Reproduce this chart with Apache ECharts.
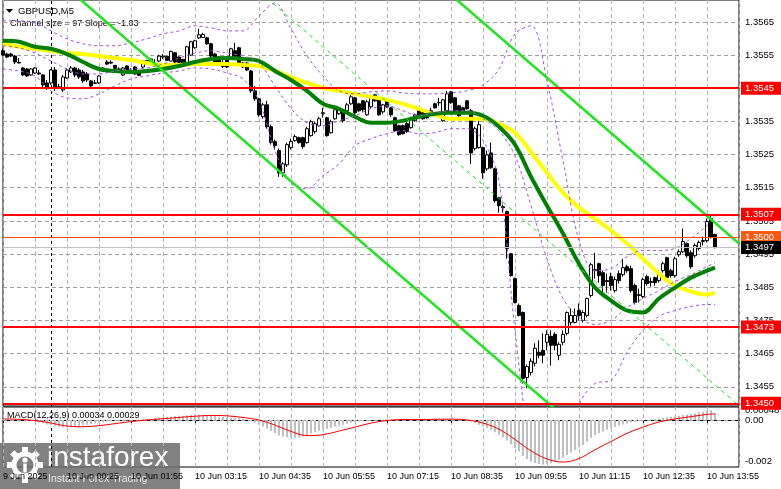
<!DOCTYPE html>
<html><head><meta charset="utf-8">
<script src="https://cdn.jsdelivr.net/npm/echarts@6/dist/echarts.min.js"></script>
<style>html,body{margin:0;padding:0;background:#fff}#c{width:781px;height:489px}</style>
</head><body><div id="c"></div>
<script>
// ---------- DATA ----------
const timeLabels = ['9 Jun 2025','10 Jun 00:25','10 Jun 01:55','10 Jun 03:15','10 Jun 04:35','10 Jun 05:55','10 Jun 07:15','10 Jun 08:35','10 Jun 09:55','10 Jun 11:15','10 Jun 12:35','10 Jun 13:55'];
const priceTicks = [1.3455,1.3465,1.3475,1.3485,1.3495,1.3505,1.3515,1.3525,1.3535,1.3545,1.3555,1.3565];
const redLevels = [1.3545,1.3507,1.3473,1.3450];
const pivotLevel = 1.3500;
const bidLevel = 1.3497;
// [open, close, low, high]
const ohlc = [
[1.35563,1.35550,1.35547,1.35569],[1.35553,1.35544,1.35541,1.35557],[1.35553,1.35547,1.35544,1.35557],[1.35547,1.35529,1.35523,1.35550],
[1.35528,1.35526,1.35525,1.35541],[1.35511,1.35490,1.35487,1.35514],[1.35508,1.35487,1.35484,1.35511],[1.35490,1.35508,1.35487,1.35511],
[1.35496,1.35511,1.35493,1.35514],[1.35496,1.35493,1.35491,1.35505],[1.35490,1.35460,1.35451,1.35493],[1.35466,1.35451,1.35445,1.35475],
[1.35466,1.35505,1.35460,1.35508],[1.35505,1.35454,1.35442,1.35514],[1.35454,1.35453,1.35448,1.35463],[1.35445,1.35484,1.35439,1.35490],
[1.35481,1.35505,1.35478,1.35511],[1.35499,1.35511,1.35496,1.35517],[1.35511,1.35490,1.35484,1.35514],[1.35505,1.35484,1.35478,1.35511],
[1.35499,1.35472,1.35466,1.35505],[1.35493,1.35475,1.35469,1.35499],[1.35472,1.35457,1.35454,1.35475],[1.35466,1.35465,1.35463,1.35475],
[1.35466,1.35487,1.35463,1.35490],[1.35502,1.35511,1.35499,1.35514],[1.35529,1.35523,1.35520,1.35535],[1.35528,1.35526,1.35523,1.35534],
[1.35519,1.35510,1.35508,1.35520],[1.35508,1.35507,1.35502,1.35513],[1.35490,1.35511,1.35487,1.35514],[1.35517,1.35499,1.35496,1.35520],
[1.35499,1.35498,1.35493,1.35511],[1.35514,1.35493,1.35490,1.35517],[1.35498,1.35489,1.35487,1.35501],[1.35514,1.35532,1.35511,1.35535],
[1.35523,1.35534,1.35520,1.35535],[1.35528,1.35538,1.35526,1.35541],[1.35520,1.35519,1.35517,1.35538],[1.35532,1.35547,1.35529,1.35550],
[1.35544,1.35547,1.35538,1.35553],[1.35546,1.35534,1.35532,1.35547],[1.35532,1.35561,1.35529,1.35563],[1.35557,1.35529,1.35526,1.35558],
[1.35544,1.35528,1.35526,1.35546],[1.35537,1.35519,1.35517,1.35538],[1.35523,1.35575,1.35520,1.35578],[1.35550,1.35590,1.35547,1.35593],
[1.35572,1.35593,1.35569,1.35596],[1.35602,1.35611,1.35599,1.35629],[1.35603,1.35612,1.35602,1.35617],[1.35602,1.35584,1.35581,1.35605],
[1.35584,1.35547,1.35544,1.35587],[1.35553,1.35523,1.35522,1.35557],[1.35544,1.35520,1.35517,1.35547],[1.35517,1.35516,1.35511,1.35541],
[1.35541,1.35514,1.35511,1.35544],[1.35538,1.35569,1.35535,1.35572],[1.35563,1.35546,1.35544,1.35587],[1.35572,1.35526,1.35523,1.35575],
[1.35526,1.35514,1.35511,1.35529],[1.35526,1.35505,1.35502,1.35529],[1.35502,1.35442,1.35436,1.35505],[1.35442,1.35418,1.35412,1.35457],
[1.35418,1.35370,1.35364,1.35421],[1.35364,1.35400,1.35358,1.35406],[1.35400,1.35334,1.35328,1.35412],[1.35334,1.35286,1.35280,1.35340],
[1.35289,1.35277,1.35265,1.35295],[1.35262,1.35195,1.35183,1.35268],[1.35195,1.35222,1.35183,1.35228],[1.35219,1.35280,1.35213,1.35286],
[1.35271,1.35289,1.35265,1.35298],[1.35292,1.35304,1.35289,1.35310],[1.35301,1.35286,1.35283,1.35304],[1.35301,1.35274,1.35268,1.35304],
[1.35286,1.35328,1.35283,1.35334],[1.35307,1.35349,1.35304,1.35355],[1.35319,1.35343,1.35313,1.35349],[1.35337,1.35358,1.35334,1.35364],
[1.35373,1.35376,1.35361,1.35391],[1.35361,1.35307,1.35304,1.35364],[1.35316,1.35349,1.35313,1.35355],[1.35358,1.35385,1.35355,1.35391],
[1.35373,1.35389,1.35370,1.35394],[1.35382,1.35352,1.35346,1.35385],[1.35382,1.35400,1.35379,1.35406],[1.35403,1.35424,1.35400,1.35430],
[1.35421,1.35376,1.35370,1.35424],[1.35403,1.35382,1.35379,1.35406],[1.35412,1.35385,1.35379,1.35415],[1.35370,1.35409,1.35367,1.35415],
[1.35394,1.35424,1.35388,1.35430],[1.35430,1.35412,1.35409,1.35433],[1.35415,1.35370,1.35367,1.35418],[1.35379,1.35400,1.35373,1.35403],
[1.35412,1.35394,1.35391,1.35415],[1.35391,1.35370,1.35364,1.35394],[1.35361,1.35322,1.35319,1.35364],[1.35337,1.35310,1.35307,1.35340],
[1.35337,1.35313,1.35310,1.35340],[1.35343,1.35319,1.35316,1.35349],[1.35331,1.35358,1.35328,1.35364],[1.35352,1.35370,1.35349,1.35373],
[1.35382,1.35361,1.35358,1.35385],[1.35376,1.35358,1.35355,1.35379],[1.35376,1.35361,1.35358,1.35379],[1.35382,1.35380,1.35373,1.35391],
[1.35403,1.35391,1.35388,1.35406],[1.35406,1.35407,1.35397,1.35421],[1.35352,1.35415,1.35349,1.35418],[1.35382,1.35433,1.35379,1.35442],
[1.35439,1.35406,1.35403,1.35442],[1.35421,1.35382,1.35379,1.35424],[1.35397,1.35367,1.35364,1.35400],[1.35391,1.35376,1.35373,1.35394],
[1.35412,1.35388,1.35385,1.35415],[1.35382,1.35255,1.35222,1.35388],[1.35268,1.35328,1.35262,1.35334],[1.35271,1.35340,1.35268,1.35352],
[1.35271,1.35195,1.35177,1.35274],[1.35207,1.35249,1.35201,1.35262],[1.35255,1.35210,1.35207,1.35286],[1.35207,1.35111,1.35105,1.35210],
[1.35120,1.35096,1.35075,1.35123],[1.35093,1.35090,1.35075,1.35099],[1.35078,1.34967,1.34936,1.35081],[1.34951,1.34885,1.34882,1.34954],
[1.34876,1.34804,1.34801,1.34879],[1.34795,1.34765,1.34762,1.34801],[1.34774,1.34575,1.34560,1.34777],[1.34578,1.34611,1.34545,1.34617],
[1.34593,1.34627,1.34584,1.34636],[1.34621,1.34666,1.34611,1.34681],[1.34654,1.34645,1.34636,1.34690],[1.34660,1.34645,1.34621,1.34711],
[1.34684,1.34708,1.34660,1.34720],[1.34702,1.34675,1.34614,1.34720],[1.34708,1.34675,1.34660,1.34714],[1.34645,1.34678,1.34630,1.34684],
[1.34684,1.34708,1.34675,1.34720],[1.34711,1.34774,1.34705,1.34777],[1.34744,1.34765,1.34735,1.34786],[1.34744,1.34765,1.34741,1.34786],
[1.34780,1.34765,1.34750,1.34801],[1.34750,1.34774,1.34744,1.34780],[1.34765,1.34816,1.34759,1.34819],[1.34825,1.34918,1.34819,1.34924],
[1.34900,1.34903,1.34876,1.34954],[1.34921,1.34885,1.34864,1.34924],[1.34894,1.34855,1.34834,1.34900],[1.34870,1.34867,1.34834,1.34891],
[1.34882,1.34855,1.34840,1.34894],[1.34840,1.34873,1.34834,1.34882],[1.34891,1.34870,1.34861,1.34900],[1.34888,1.34909,1.34882,1.34936],
[1.34912,1.34900,1.34894,1.34918],[1.34906,1.34840,1.34834,1.34915],[1.34855,1.34804,1.34798,1.34861],[1.34825,1.34828,1.34804,1.34846],
[1.34822,1.34873,1.34816,1.34879],[1.34882,1.34861,1.34855,1.34888],[1.34867,1.34864,1.34852,1.34879],[1.34879,1.34864,1.34855,1.34882],
[1.34870,1.34894,1.34864,1.34900],[1.34900,1.34921,1.34894,1.34927],[1.34939,1.34879,1.34873,1.34942],[1.34900,1.34885,1.34879,1.34906],
[1.34885,1.34936,1.34879,1.34942],[1.34948,1.34957,1.34942,1.34964],[1.34957,1.34988,1.34954,1.35027],[1.34982,1.34945,1.34939,1.34985],
[1.34954,1.34912,1.34906,1.34961],[1.34945,1.34976,1.34939,1.34982],[1.34967,1.34985,1.34961,1.34991],[1.34988,1.34991,1.34976,1.35003],
[1.34991,1.35048,1.34985,1.35057],[1.35057,1.35000,1.34997,1.35066],[1.35009,1.34970,1.34967,1.35012]
];
// indicator lines read every 4 bars (bar index in sampleIdx)
const sampleIdx = [0,4,8,12,16,20,24,28,32,36,40,44,48,52,56,60,64,68,72,76,80,84,88,92,96,100,104,108,112,116,120,124,128,132,136,140,144,148,152,156,160,164,168,172,176,178];
const maYellow = [1.35584,1.35575,1.35569,1.35563,1.35556,1.35553,1.35547,1.35541,1.35535,1.35526,1.35520,1.35520,1.35523,1.35523,1.35523,1.35520,1.35517,1.35502,1.35484,1.35466,1.35451,1.35442,1.35433,1.35424,1.35415,1.35403,1.35388,1.35370,1.35358,1.35358,1.35358,1.35343,1.35316,1.35258,1.35195,1.35135,1.35090,1.35057,1.35021,1.34982,1.34936,1.34891,1.34855,1.34837,1.34828,1.34834];
const maGreen = [1.35593,1.35590,1.35575,1.35569,1.35553,1.35529,1.35508,1.35502,1.35499,1.35502,1.35508,1.35517,1.35529,1.35538,1.35541,1.35538,1.35532,1.35502,1.35475,1.35442,1.35403,1.35388,1.35364,1.35346,1.35346,1.35352,1.35364,1.35373,1.35376,1.35376,1.35367,1.35334,1.35280,1.35183,1.35096,1.35012,1.34921,1.34849,1.34810,1.34780,1.34774,1.34816,1.34849,1.34879,1.34900,1.34909];
const bandUpper = [1.35653,1.35653,1.35647,1.35623,1.35599,1.35584,1.35578,1.35578,1.35587,1.35599,1.35614,1.35623,1.35638,1.35632,1.35623,1.35623,1.35668,1.35707,1.35629,1.35547,1.35487,1.35442,1.35433,1.35439,1.35442,1.35436,1.35433,1.35433,1.35436,1.35442,1.35460,1.35508,1.35614,1.35638,1.35472,1.35231,1.34991,1.34900,1.34906,1.34942,1.34961,1.34961,1.34967,1.34997,1.35036,1.35063];
const bandMiddle = [1.35578,1.35572,1.35556,1.35532,1.35508,1.35493,1.35493,1.35502,1.35508,1.35511,1.35523,1.35541,1.35556,1.35563,1.35556,1.35547,1.35526,1.35457,1.35388,1.35346,1.35337,1.35352,1.35367,1.35388,1.35397,1.35382,1.35367,1.35376,1.35382,1.35382,1.35358,1.35322,1.35246,1.35096,1.34936,1.34816,1.34759,1.34738,1.34750,1.34789,1.34816,1.34840,1.34867,1.34888,1.34912,1.34924];
const bandLower = [1.35508,1.35502,1.35487,1.35442,1.35421,1.35418,1.35433,1.35457,1.35478,1.35487,1.35496,1.35502,1.35511,1.35508,1.35496,1.35478,1.35412,1.35262,1.35165,1.35147,1.35186,1.35222,1.35277,1.35298,1.35313,1.35322,1.35313,1.35316,1.35328,1.35328,1.35292,1.35171,1.34720,1.34359,1.34238,1.34298,1.34494,1.34560,1.34569,1.34654,1.34720,1.34762,1.34780,1.34792,1.34798,1.34798];
// regression channel (bar index, price) end points
const channelLower = [[19,1.35721],[140,1.34462]];
const channelMiddle = [[66,1.35721],[184,1.34493]];
const channelUpper = [[113,1.35721],[184,1.34982]];
// MACD(12,26,9): main (histogram) per bar and signal sampled every 4 bars
const macdMain = [
0.00004,0.00003,0.00003,0.00002,0.00001,0.00000,-0.00002,-0.00005,
-0.00008,-0.00012,-0.00016,-0.00022,-0.00026,-0.00030,-0.00033,-0.00035,-0.00034,
-0.00032,-0.00030,-0.00028,-0.00026,-0.00023,-0.00020,-0.00017,-0.00013,-0.00010,-0.00007,-0.00004,
-0.00003,-0.00004,-0.00002,-0.00003,-0.00002,0.00000,0.00002,0.00003,0.00005,0.00006,0.00009,0.00011,0.00013,
0.00015,0.00017,0.00019,0.00020,0.00021,0.00023,0.00024,0.00026,0.00026,0.00025,0.00023,0.00021,0.00019,0.00016,0.00014,0.00012,
0.00010,0.00009,0.00008,0.00005,0.00002,-0.00005,
-0.00012,-0.00022,-0.00032,-0.00043,-0.00054,-0.00064,-0.00076,-0.00082,-0.00084,-0.00086,-0.00088,
-0.00085,-0.00080,-0.00073,-0.00066,-0.00060,-0.00053,-0.00046,-0.00043,-0.00038,-0.00032,-0.00027,-0.00023,-0.00019,-0.00014,-0.00010,-0.00008,-0.00006,
-0.00004,-0.00002,0.00000,0.00001,0.00002,0.00003,0.00003,0.00002,0.00001,0.00000,0.00001,0.00002,0.00003,0.00004,0.00004,0.00005,0.00005,0.00006,0.00006,0.00005,0.00005,0.00004,0.00003,0.00002,0.00001,
0.00000,-0.00008,-0.00015,-0.00023,-0.00032,-0.00038,-0.00048,-0.00060,-0.00072,-0.00084,-0.00100,-0.00118,-0.00136,-0.00154,-0.00175,
-0.00190,-0.00202,-0.00210,-0.00215,-0.00218,-0.00215,-0.00210,-0.00203,-0.00194,-0.00184,
-0.00170,-0.00158,-0.00146,-0.00134,-0.00122,-0.00106,-0.00087,-0.00074,-0.00064,-0.00056,-0.00048,-0.00040,-0.00034,-0.00028,-0.00022,-0.00017,-0.00013,-0.00009,-0.00006,-0.00003,
0.00000,0.00003,0.00005,0.00008,0.00010,0.00013,0.00015,0.00018,0.00020,0.00024,0.00027,0.00030,0.00033,0.00037,0.00040,0.00045,0.00048,0.00034
];
const macdSignal = [0.00005,0.00003,-0.00003,-0.00015,-0.00030,-0.00033,-0.00028,-0.00018,-0.00008,0.00000,0.00006,0.00012,0.00018,0.00022,0.00020,0.00012,0.00000,-0.00025,-0.00056,-0.00076,-0.00072,-0.00054,-0.00035,-0.00015,-0.00003,0.00002,0.00002,0.00003,0.00004,0.00000,-0.00015,-0.00045,-0.00095,-0.00150,-0.00190,-0.00205,-0.00188,-0.00145,-0.00105,-0.00065,-0.00035,-0.00010,0.00005,0.00016,0.00027,0.00029];
const macdScaleMarks = [0.00048, 0, -0.002];
const macdScaleLabels = ['0.00048','0.00','-0.002'];
const daySeparatorIdx = 12;

// ---------- CHART ----------
const FONT = '"Liberation Sans", Arial, sans-serif';
const nBars = 185;
const firstIdx = 0, lastIdx = nBars - 1;
const mainMin = 1.34492, mainMax = 1.35716, macdMin = -0.00229, macdMax = 0.00063;
const cats = Array.from({length: nBars}, (_, i) => String(i));
const pairs = (arr) => sampleIdx.map((i, k) => [i, arr[k]]);
const chart = echarts.init(document.getElementById('c'), null, {renderer: 'canvas'});

const lblEvery = (i) => i % 16 === 0;
const vSplit = {show: true, interval: 7, lineStyle: {color: '#b4b4b4', width: 1, type: [4, 3]}};

function lineS(data, color, width, extra) {
  return Object.assign({type: 'line', data: data, xAxisIndex: 0, yAxisIndex: 0, showSymbol: false, symbol: 'none',
    smooth: 0.35, lineStyle: {color: color, width: width}, silent: true, z: 3, clip: true}, extra || {});
}
function hLine(v, lineStyle, label) {
  return [{coord: [firstIdx, v], lineStyle: lineStyle, label: label || {show: false}}, {coord: [lastIdx, v]}];
}
function vLine(i, lo, hi, lineStyle) {
  return [{coord: [i, lo], lineStyle: lineStyle, label: {show: false}}, {coord: [i, hi]}];
}
function boxLabel(text, bg) {
  return {show: true, position: 'end', distance: 2, formatter: text, color: '#fff', backgroundColor: bg,
    padding: [2, 14, 1, 4], fontSize: 9.5, fontFamily: FONT};
}
const tickLabel = (text) => ({show: true, position: 'end', distance: 6, formatter: text, color: '#000', fontSize: 9.5, fontFamily: FONT});
const gridLine = () => ({color: '#a0a0a0', width: 1, type: [4, 3]});
const sepLine = () => ({color: '#000', type: [3, 3], width: 1});
const clearLine = () => ({color: 'rgba(255,255,255,0)', width: 1, type: 'solid'});

const levelData = redLevels.map(v => hLine(v, {color: '#ff0000', width: 2, type: 'solid'}, boxLabel(v.toFixed(4), '#ff0000')));
levelData.push(hLine(pivotLevel, {color: '#ff4a10', width: 1, type: 'solid'}, boxLabel(pivotLevel.toFixed(4), '#ff5a14')));
levelData.push(hLine(bidLevel, {color: '#c0c0c0', width: 1, type: 'solid'}, boxLabel(bidLevel.toFixed(4), '#000000')));

const option = {
  animation: false,
  backgroundColor: '#ffffff',
  grid: [
    {left: 3, top: -1, width: 736, height: 407, show: true, borderColor: '#000', borderWidth: 1, backgroundColor: 'rgba(0,0,0,0)'},
    {left: 3, top: 407, width: 736, height: 60, show: true, borderColor: '#000', borderWidth: 1, backgroundColor: 'rgba(0,0,0,0)'}
  ],
  xAxis: [
    {type: 'category', gridIndex: 0, data: cats, boundaryGap: false, axisLine: {show: false}, axisTick: {show: false}, axisLabel: {show: false}, splitLine: vSplit},
    {type: 'category', gridIndex: 1, data: cats, boundaryGap: false, axisLine: {show: true, lineStyle: {color: '#000'}},
      axisTick: {show: true, interval: lblEvery, length: 3, lineStyle: {color: '#000'}},
      axisLabel: {show: true, interval: lblEvery, align: 'left', margin: 5, fontSize: 9, fontFamily: FONT, color: '#000',
        formatter: (v) => timeLabels[Math.round(Number(v) / 16)] || ''},
      splitLine: vSplit}
  ],
  yAxis: [
    {type: 'value', gridIndex: 0, min: mainMin, max: mainMax, axisLine: {show: false}, axisTick: {show: false}, axisLabel: {show: false}, splitLine: {show: false}},
    {type: 'value', gridIndex: 1, min: macdMin, max: macdMax, axisLine: {show: false}, axisTick: {show: false}, axisLabel: {show: false}, splitLine: {show: false}}
  ],
  graphic: [
    {type: 'polygon', shape: {points: [[6, 9], [13, 9], [9.5, 13]]}, style: {fill: '#000'}},
    {type: 'text', x: 18, y: 11, style: {text: 'GBPUSD,M5', fontSize: 9.5, fontFamily: FONT, fill: '#000', verticalAlign: 'middle'}},
    {type: 'text', x: 10, y: 24, style: {text: 'Channel size = 97 Slope = -1.03', fontSize: 9, fontFamily: FONT, fill: '#000', verticalAlign: 'middle'}},
    {type: 'text', x: 7, y: 416, style: {text: 'MACD(12,26,9) 0.00034 0.00029', fontSize: 9, fontFamily: FONT, fill: '#000', verticalAlign: 'middle'}},
    {type: 'group', z: 100, children: [
      {type: 'rect', shape: {x: 0, y: 443, width: 180, height: 46}, style: {fill: 'rgba(112,112,112,0.88)'}},
      {type: 'circle', shape: {cx: 25, cy: 465, r: 11}, style: {fill: 'none', stroke: '#fff', lineWidth: 5}},
      ...[0,1,2,3,4,5,6,7].map(k => ({type: 'rect', x: 25, y: 465, rotation: -k * Math.PI / 4, shape: {x: -3, y: -18, width: 6, height: 7}, style: {fill: '#fff'}})),
      {type: 'circle', shape: {cx: 25, cy: 460, r: 2.6}, style: {fill: '#fff'}},
      {type: 'rect', shape: {x: 23.3, y: 463.5, width: 3.4, height: 9}, style: {fill: '#fff'}},
      {type: 'text', x: 47, y: 458, style: {text: 'instaforex', fontSize: 28, fontFamily: FONT, fill: '#fff', verticalAlign: 'middle'}},
      {type: 'text', x: 48, y: 479, style: {text: 'Instant Forex Trading', fontSize: 10.5, fontFamily: FONT, fill: '#e6e6e6', verticalAlign: 'middle'}}
    ]}
  ],
  series: [
    // horizontal grid lines, price labels and day separator (main panel)
    {type: 'line', data: [[firstIdx, null], [lastIdx, null]], xAxisIndex: 0, yAxisIndex: 0, silent: true, showSymbol: false, z: 1,
      markLine: {silent: true, symbol: 'none', z: 1, animation: false,
        data: priceTicks.map(v => hLine(v, gridLine(), tickLabel(v.toFixed(4))))
          .concat([vLine(daySeparatorIdx, mainMin, mainMax, sepLine())])}},
    {type: 'candlestick', xAxisIndex: 0, yAxisIndex: 0, data: ohlc, barWidth: 3, silent: true, z: 2,
      itemStyle: {color: '#ffffff', color0: '#000000', borderColor: '#000000', borderColor0: '#000000', borderWidth: 1}},
    lineS(pairs(maYellow), '#ffff00', 4),
    lineS(pairs(maGreen), '#008000', 4),
    lineS(pairs(bandUpper), '#a64de0', 1, {lineStyle: {color: '#a64de0', width: 1, type: [3, 3]}}),
    lineS(pairs(bandMiddle), '#a64de0', 1, {lineStyle: {color: '#a64de0', width: 1, type: [3, 3]}}),
    lineS(pairs(bandLower), '#a64de0', 1, {lineStyle: {color: '#a64de0', width: 1, type: [3, 3]}}),
    lineS(channelLower, '#1ee61e', 2.5, {smooth: false, z: 4}),
    lineS(channelUpper, '#1ee61e', 2.5, {smooth: false, z: 4}),
    lineS(channelMiddle, '#1ee61e', 1, {smooth: false, z: 4, lineStyle: {color: '#1ee61e', width: 1, type: [4, 4]}}),
    // price levels
    {type: 'line', data: [[firstIdx, null], [lastIdx, null]], xAxisIndex: 0, yAxisIndex: 0, silent: true, z: 6, showSymbol: false,
      markLine: {silent: true, symbol: 'none', z: 6, animation: false, data: levelData}},
    // MACD panel zero line, scale labels, day separator
    {type: 'line', data: [[firstIdx, null], [lastIdx, null]], xAxisIndex: 1, yAxisIndex: 1, silent: true, showSymbol: false, z: 1,
      markLine: {silent: true, symbol: 'none', z: 1, animation: false,
        data: [
          hLine(macdScaleMarks[0], clearLine(), tickLabel(macdScaleLabels[0])),
          hLine(macdScaleMarks[1], gridLine(), tickLabel(macdScaleLabels[1])),
          hLine(macdScaleMarks[2], clearLine(), tickLabel(macdScaleLabels[2])),
          vLine(daySeparatorIdx, macdMin, macdMax, sepLine())
        ]}},
    {type: 'bar', xAxisIndex: 1, yAxisIndex: 1, data: macdMain, barWidth: 2, silent: true, z: 2, itemStyle: {color: '#c0c0c0'}},
    {type: 'line', xAxisIndex: 1, yAxisIndex: 1, data: sampleIdx.map((i, k) => [i, macdSignal[k]]), showSymbol: false, symbol: 'none',
      smooth: 0.35, silent: true, z: 3, lineStyle: {color: '#ff0000', width: 1}}
  ]
};
chart.setOption(option);
</script>
</body></html>
